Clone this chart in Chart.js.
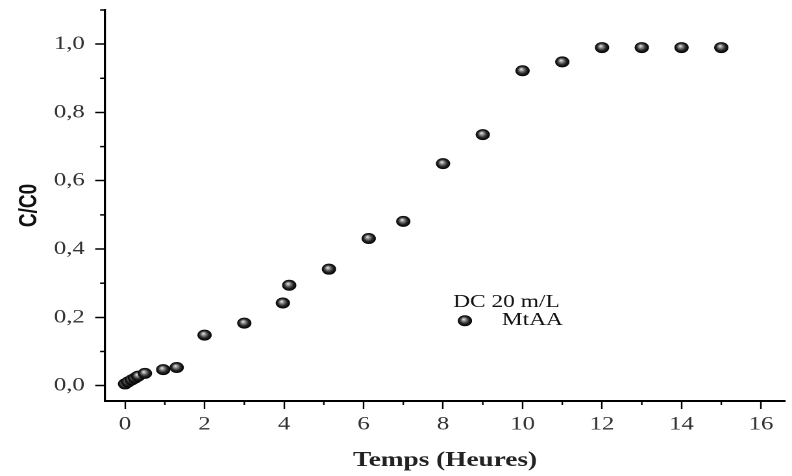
<!DOCTYPE html>
<html lang="fr">
<head>
<meta charset="UTF-8">
<title>C/C0 en fonction du temps</title>
<script src="https://cdn.jsdelivr.net/npm/chart.js@4"></script>
<style>
  html, body { margin: 0; padding: 0; background: #fff; overflow: hidden; }
  /* the source figure is stretched sideways, so the chart is stretched the same way */
  #wrap { width: 610px; height: 476px; transform: scaleX(1.2984); transform-origin: 0 0; }
</style>
</head>
<body>
<div id="wrap"><canvas id="chart" width="610" height="476"></canvas></div>
<script>
// data
const timeHours = [0, 0.08, 0.17, 0.25, 0.33, 0.5, 0.96, 1.3, 2, 3, 3.97, 4.13, 5.13, 6.13, 7, 8, 9, 10, 11, 12, 13, 14, 15];
const ratioMtAA = [0.005, 0.011, 0.017, 0.022, 0.028, 0.036, 0.047, 0.053, 0.148, 0.183, 0.242, 0.294, 0.341, 0.431, 0.481, 0.650, 0.735, 0.922, 0.948, 0.990, 0.990, 0.990, 0.990];

const seriesName = 'MtAA';
const legendTitle = 'DC 20 m/L';
const xTitle = 'Temps (Heures)';
const yTitle = 'C/C0';
const xStep = 2;    // labelled ticks, one minor tick in between
const yStep = 0.2;
const legendAt = { x: 8.55, y: 0.19 };  // where the inset legend marker sits, in data units

// shaded black ball used for the markers
function sphere(ctx, x, y, r) {
  if (!isFinite(x) || !isFinite(y)) return '#000';
  const g = ctx.createRadialGradient(x - r * 0.2, y - r * 0.3, 0, x, y, r);
  g.addColorStop(0, '#f0f0f0');
  g.addColorStop(0.3, '#8a8a8a');
  g.addColorStop(0.65, '#262626');
  g.addColorStop(1, '#000');
  return g;
}

const minorTicks = {
  id: 'minorTicks',
  afterDraw(chart) {
    const { ctx, chartArea: a, scales } = chart;
    ctx.save();
    ctx.strokeStyle = '#000';
    ctx.lineWidth = 1.2;
    scales.x.ticks.forEach(t => {
      const v = t.value + xStep / 2;
      if (v > scales.x.max) return;
      const p = scales.x.getPixelForValue(v);
      ctx.beginPath(); ctx.moveTo(p, a.bottom); ctx.lineTo(p, a.bottom + 4); ctx.stroke();
    });
    ctx.lineWidth = 1.5;
    scales.y.ticks.forEach(t => {
      const v = t.value + yStep / 2;
      if (v > scales.y.max + 1e-9) return;
      const p = scales.y.getPixelForValue(v);
      ctx.beginPath(); ctx.moveTo(a.left, p); ctx.lineTo(a.left - 3.9, p); ctx.stroke();
    });
    ctx.restore();
  }
};

const insetLegend = {
  id: 'insetLegend',
  afterDraw(chart) {
    const { ctx, scales: { x, y } } = chart;
    const mx = x.getPixelForValue(legendAt.x);
    const my = y.getPixelForValue(legendAt.y);
    ctx.save();
    ctx.fillStyle = '#111';
    ctx.font = '18px "Liberation Serif"';
    ctx.textBaseline = 'alphabetic';
    ctx.textAlign = 'center';
    ctx.fillText(legendTitle, mx + 32, my - 14);
    ctx.textAlign = 'left';
    ctx.fillText(seriesName, mx + 28.5, my + 4);
    ctx.fillStyle = sphere(ctx, mx, my, 5.5);
    ctx.beginPath(); ctx.arc(mx, my, 5.5, 0, Math.PI * 2); ctx.fill();
    ctx.restore();
  }
};

new Chart(document.getElementById('chart'), {
  type: 'scatter',
  data: {
    datasets: [{
      label: seriesName,
      data: timeHours.map((t, i) => ({ x: t, y: ratioMtAA[i] })),
      pointStyle: 'circle',
      pointRadius: 5.5,
      pointHoverRadius: 5.5,
      borderWidth: 0,
      backgroundColor: c => {
        if (c.type !== 'data' || !c.raw) return '#000';
        const px = c.chart.scales.x.getPixelForValue(c.raw.x);
        const py = c.chart.scales.y.getPixelForValue(c.raw.y);
        return sphere(c.chart.ctx, px, py, 5.5);
      }
    }]
  },
  options: {
    responsive: false,
    devicePixelRatio: 2,
    animation: false,
    events: [],
    layout: { padding: { left: 0, right: 5, top: 10, bottom: 0 } },
    plugins: { legend: { display: false }, tooltip: { enabled: false } },
    scales: {
      x: {
        type: 'linear',
        min: -0.5,
        max: 16.6,
        afterFit: s => { s.height = 75; s.paddingLeft = 0; s.paddingRight = 0; },
        border: { display: true, color: '#000', width: 2 },
        grid: { drawOnChartArea: false, drawTicks: true, tickLength: 8, tickColor: '#000', tickWidth: 1.2 },
        ticks: {
          stepSize: xStep,
          includeBounds: false,
          padding: 4,
          color: '#333',
          font: { family: 'Liberation Serif', size: 19 },
          callback: v => String(v)
        },
        title: {
          display: true,
          text: xTitle,
          color: '#222',
          font: { family: 'Liberation Serif', size: 21, weight: 'bold' },
          padding: { top: 0, bottom: 3 }
        }
      },
      y: {
        type: 'linear',
        min: -0.045,
        max: 1.1,
        afterFit: s => { s.width = 81; s.paddingTop = 0; s.paddingBottom = 0; },
        border: { display: true, color: '#000', width: 1.6 },
        grid: { drawOnChartArea: false, drawTicks: true, tickLength: 7.7, tickColor: '#000', tickWidth: 1.5 },
        ticks: {
          stepSize: yStep,
          includeBounds: false,
          padding: 8,
          color: '#333',
          font: { family: 'Liberation Serif', size: 19 },
          callback: v => v.toFixed(1).replace('.', ',')
        },
        title: {
          display: true,
          text: yTitle,
          color: '#111',
          font: { family: 'Liberation Sans', size: 19, weight: 'bold' },
          padding: { top: 11.5, bottom: 0 }
        }
      }
    }
  },
  plugins: [minorTicks, insetLegend]
});
</script>
</body>
</html>
